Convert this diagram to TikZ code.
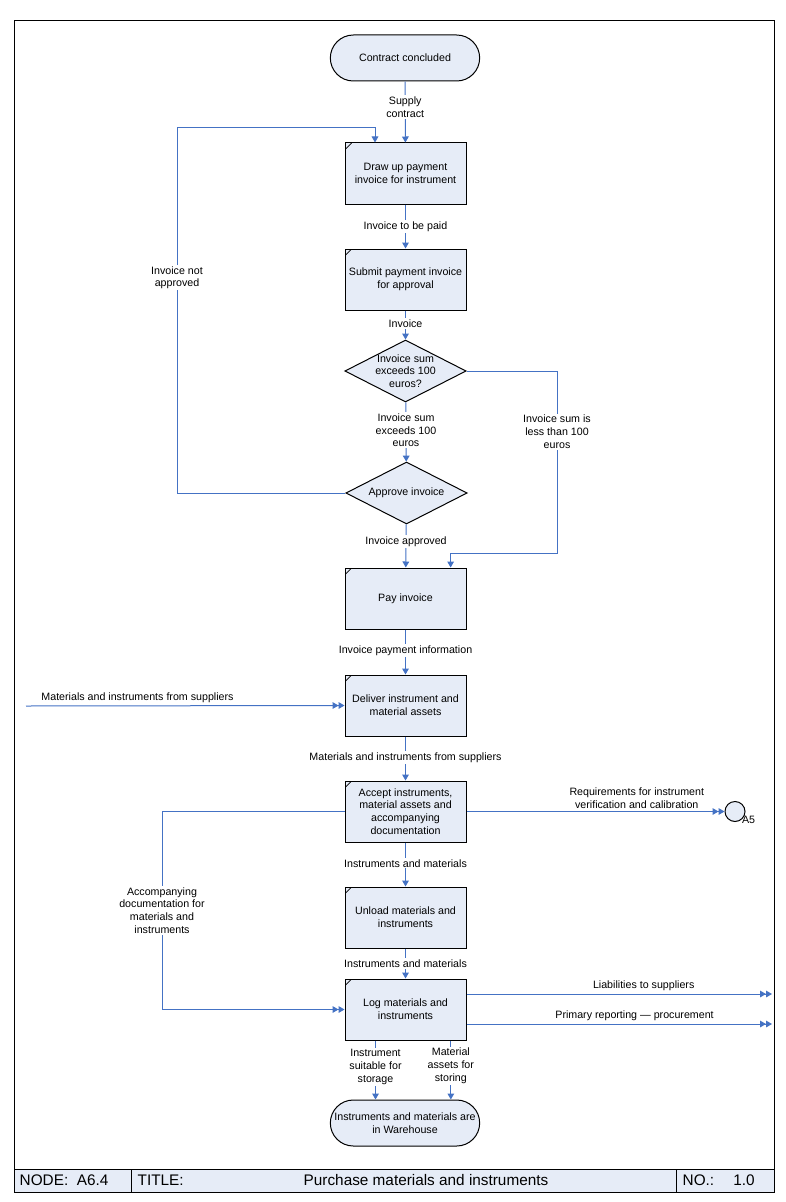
\documentclass[tikz,border=0pt]{standalone}
\usepackage{fontspec}
\setmainfont{Liberation Sans}
\usetikzlibrary{arrows.meta,positioning,shapes.geometric,shapes.misc,calc}

\definecolor{flowblue}{RGB}{68,114,196}
\definecolor{boxfill}{RGB}{230,236,247}

\begin{document}
\begin{tikzpicture}[
  x=0.75pt, y=-0.75pt,
  font=\fontsize{8}{9.6}\selectfont,
  box/.style={draw, fill=boxfill, line width=0.75pt, align=center, minimum width=90.75pt, minimum height=45.75pt, inner sep=1pt,
    path picture={\draw[line width=0.5pt] ([yshift=-5pt]path picture bounding box.north west) -- ([xshift=5pt]path picture bounding box.north west);}},
  decision/.style={draw, fill=boxfill, line width=0.75pt, diamond, aspect=2, minimum width=91pt, minimum height=46.5pt, inner sep=0pt},
  terminal/.style={draw, fill=boxfill, line width=0.75pt, rounded rectangle, align=center, minimum width=114pt, minimum height=34.5pt, inner sep=1pt},
  lbl/.style={fill=white, align=center, inner sep=1pt},
  tag/.style={align=center, inner sep=2pt},
  flow/.style={draw=flowblue, line width=0.75pt, -{Triangle[width=5pt,length=4.5pt]}},
  ext/.style={flow, -{Triangle[width=5pt,length=4.5pt]Triangle[width=5pt,length=4.5pt]}}
]
\useasboundingbox (0,0) rectangle (785,1202);

% frame and title bar
\draw[line width=0.75pt] (14,21) rectangle (774,1192);
\draw[line width=0.75pt, fill=boxfill] (14,1169) rectangle (774,1192);
\draw[line width=0.75pt] (131,1169) -- (131,1192);
\draw[line width=0.75pt] (676,1169) -- (676,1192);
\node[anchor=west, font=\fontsize{11.5}{12}\selectfont] (nodeid) at (15,1180.5) {NODE:\ \ A6.4};
\node[anchor=west, font=\fontsize{11.5}{12}\selectfont] (titlekey) at (133,1180.5) {TITLE:};
\node[font=\fontsize{11.5}{12}\selectfont] (title) at (426,1180.5) {Purchase materials and instruments};
\node[anchor=west, font=\fontsize{11.5}{12}\selectfont] (nokey) at (678,1180.5) {NO.:};
\node[font=\fontsize{11.5}{12}\selectfont] (noval) at (744,1180.5) {1.0};

% nodes
\node[terminal] (start) at (405,58) {Contract concluded};
\node[box] (drawup) at (405.5,173.5) {Draw up payment\\invoice for instrument};
\node[box] (submit) at (405.5,279.5) {Submit payment invoice\\for approval};
\node[decision, label={[align=center]center:Invoice sum\\exceeds 100\\euros?}] (sum) at (405.5,371) {};
\node[decision, label={center:Approve invoice}] (approve) at (406.5,493) {};
\node[box] (pay) at (405.5,598.5) {Pay invoice};
\node[box] (deliver) at (405.5,705.5) {Deliver instrument and\\material assets};
\node[box] (accept) at (405.5,811.5) {Accept instruments,\\material assets and\\accompanying\\documentation};
\node[box] (unload) at (405.5,917.5) {Unload materials and\\instruments};
\node[box] (log) at (405.5,1009.5) {Log materials and\\instruments};
\node[terminal] (store) at (405,1123) {Instruments and materials are\\in Warehouse};
\node[draw, fill=boxfill, line width=0.75pt, circle, minimum size=15pt, inner sep=0pt,
  label={[anchor=north west, inner sep=0pt, xshift=-0.5pt, yshift=2.5pt]south east:A5}] (a5) at (735,811.5) {};

% bends and free ends
\coordinate (loopL) at (177,128);
\coordinate (skipR) at (557,553);
\coordinate (supIn) at (26,706);
\coordinate (docL) at (162,1009.5);
\coordinate (liabOut) at (772,994);
\coordinate (repOut) at (772,1024);

% connectors
\draw[flow] (start) -- node[lbl, pos=0.42] {Supply\\contract} (drawup);
\draw[flow] (approve.west) -| node[lbl, pos=0.795] {Invoice not\\approved} (loopL) -| ($(drawup.north west)!0.25!(drawup.north east)$);
\draw[flow] (drawup) -- node[lbl] {Invoice to be paid} (submit);
\draw[flow] (submit) -- node[lbl, pos=0.45] {Invoice} (sum);
\draw[flow] (sum) -- node[lbl, pos=0.47] {Invoice sum\\exceeds 100\\euros} (approve);
\draw[flow] (sum.east) -| node[lbl, pos=0.667] {Invoice sum is\\less than 100\\euros} (skipR) -| ($(pay.north west)!0.87!(pay.north east)$);
\draw[flow] (approve) -- node[lbl, pos=0.4] {Invoice approved} (pay);
\draw[flow] (pay) -- node[lbl, pos=0.47] {Invoice payment information} (deliver);
\draw[ext] (supIn) -- node[tag, above, pos=0.35] {Materials and instruments from suppliers} (deliver.west);
\draw[flow] (deliver) -- node[lbl, pos=0.48] {Materials and instruments from suppliers} (accept);
\draw[ext] (accept.east) -- node[tag, above, pos=0.66] {Requirements for instrument\\verification and calibration} (a5);
\draw[ext] (accept.west) -| node[lbl, pos=0.75] {Accompanying\\documentation for\\materials and\\instruments} (docL) -- (log.west);
\draw[flow] (accept) -- node[lbl, pos=0.47] {Instruments and materials} (unload);
\draw[flow] (unload) -- node[lbl, pos=0.5] {Instruments and materials} (log);
\draw[ext] (log.east |- liabOut) -- node[tag, above, pos=0.58] {Liabilities to suppliers} (liabOut);
\draw[ext] (log.east |- repOut) -- node[tag, above, pos=0.55] {Primary reporting --- procurement} (repOut);
\draw[flow] ([xshift=-22.5pt]log.south) -- node[lbl, pos=0.45] {Instrument\\suitable for\\storage} ([xshift=-22.5pt]log.south |- store.north);
\draw[flow] ([xshift=34pt]log.south) -- node[lbl, pos=0.43] {Material\\assets for\\storing} ([xshift=34pt]log.south |- store.north);
\end{tikzpicture}
\end{document}
